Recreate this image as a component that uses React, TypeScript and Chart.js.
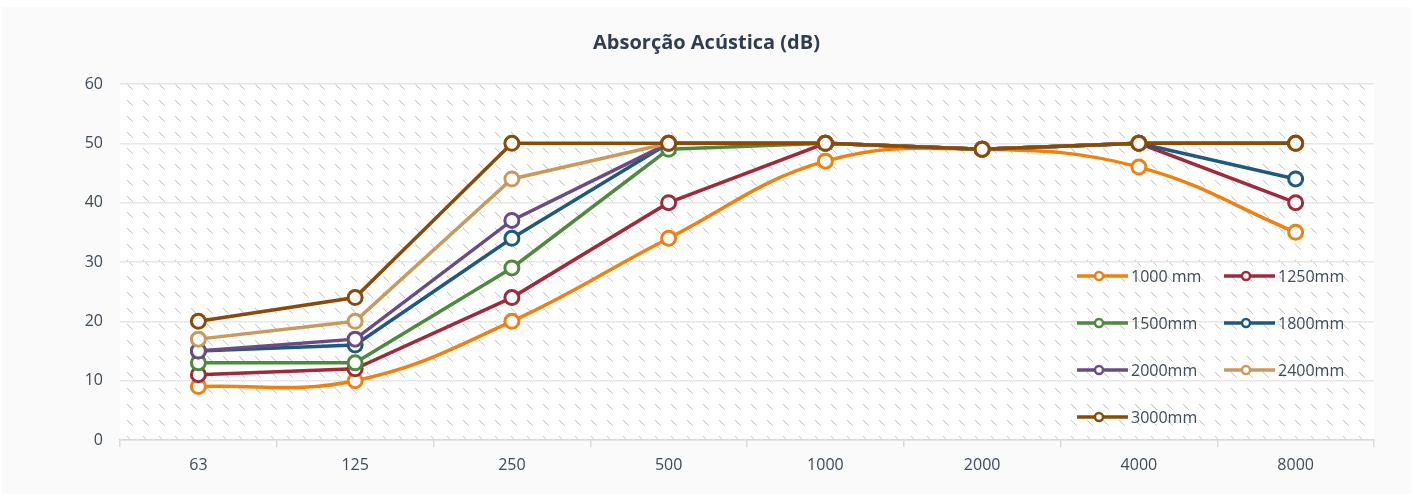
import React, { useEffect, useRef } from "react";
import { Chart, registerables } from "chart.js";

Chart.register(...registerables);

const categories = ["63", "125", "250", "500", "1000", "2000", "4000", "8000"];
const seriesLabels = ["1000 mm", "1250mm", "1500mm", "1800mm", "2000mm", "2400mm", "3000mm"];
const s1000 = [9, 10, 20, 34, 47, 49, 46, 35];
const s1250 = [11, 12, 24, 40, 50, 49, 50, 40];
const s1500 = [13, 13, 29, 49, 50, 49, 50, 50];
const s1800 = [15, 16, 34, 50, 50, 49, 50, 44];
const s2000 = [15, 17, 37, 50, 50, 49, 50, 50];
const s2400 = [17, 20, 44, 50, 50, 49, 50, 50];
const s3000 = [20, 24, 50, 50, 50, 49, 50, 50];
const yTicks = [0, 10, 20, 30, 40, 50, 60];

const seriesValues = [s1000, s1250, s1500, s1800, s2000, s2400, s3000];
const colors = ["#f0810f", "#a12a3a", "#4e8a3e", "#1d5a80", "#6a4c82", "#c99a5e", "#8a4b08"];
const tensions = [0.4, 0, 0, 0, 0, 0, 0];

const FONT = "'Open Sans', 'Noto Sans', sans-serif";
const TEXT = "#3c4a5b";

const bgPlugin = {
  id: "plotBg",
  beforeDraw(chart: any) {
    const { ctx, chartArea } = chart;
    if (!chartArea) return;
    const { left, top, right, bottom } = chartArea;
    ctx.save();
    ctx.fillStyle = "#ffffff";
    ctx.fillRect(left, top, right - left, bottom - top);
    const tile = document.createElement("canvas");
    tile.width = 16;
    tile.height = 16;
    const tctx = tile.getContext("2d")!;
    tctx.fillStyle = "#c6c6c6";
    for (let i = 0; i < 6; i++) tctx.fillRect(i, i, 1, 1);
    const pat = ctx.createPattern(tile, "repeat");
    if (pat && (pat as any).setTransform) {
      (pat as any).setTransform(new DOMMatrix().translate(left + 7, top));
    }
    ctx.fillStyle = pat;
    ctx.fillRect(left, top, right - left, bottom - top);
    ctx.restore();
  },
};

const legendPlugin = {
  id: "innerLegend",
  afterDatasetsDraw(chart: any) {
    const { ctx, chartArea } = chart;
    const rows = [-164, -117, -70, -23];
    const cols = [-297, -150];
    ctx.save();
    seriesLabels.forEach((label, i) => {
      const r = Math.floor(i / 2);
      const c = i % 2;
      const y = chartArea.bottom + rows[r];
      const x0 = chartArea.right + cols[c];
      ctx.strokeStyle = colors[i];
      ctx.lineWidth = 3.5;
      ctx.beginPath();
      ctx.moveTo(x0, y);
      ctx.lineTo(x0 + 51, y);
      ctx.stroke();
      ctx.beginPath();
      ctx.arc(x0 + 22, y, 4, 0, Math.PI * 2);
      ctx.fillStyle = "#ffffff";
      ctx.fill();
      ctx.lineWidth = 2.5;
      ctx.stroke();
      ctx.fillStyle = TEXT;
      ctx.font = `16px ${FONT}`;
      ctx.textAlign = "left";
      ctx.textBaseline = "middle";
      ctx.fillText(label, x0 + 54, y + 1);
    });
    ctx.restore();
  },
};

export default function App() {
  const ref = useRef<HTMLCanvasElement>(null);
  useEffect(() => {
    if (!ref.current) return;
    const chart = new Chart(ref.current, {
      type: "line",
      data: {
        labels: categories,
        datasets: seriesValues.map((vals, i) => ({
          label: seriesLabels[i],
          data: vals,
          borderColor: colors[i],
          backgroundColor: "#ffffff",
          pointBackgroundColor: "#ffffff",
          pointBorderColor: colors[i],
          pointRadius: 7,
          pointBorderWidth: 3,
          borderWidth: 3.5,
          tension: tensions[i],
          fill: false,
          order: seriesValues.length - i,
        })),
      },
      plugins: [bgPlugin, legendPlugin],
      options: {
        animation: false,
        responsive: false,
        layout: { padding: 0 },
        plugins: {
          legend: { display: false },
          tooltip: { enabled: false },
          title: {
            display: true,
            text: "Absorção Acústica (dB)",
            color: "#2e3e50",
            font: { family: FONT, size: 20, weight: "bold", lineHeight: 1.2 },
            padding: { top: 24, bottom: 29 },
          },
        },
        scales: {
          x: {
            offset: true,
            grid: {
              offset: true,
              drawOnChartArea: false,
              drawTicks: true,
              tickLength: 7,
              color: "#d9d9d9",
              lineWidth: 1.5,
            },
            border: { display: true, color: "#d9d9d9", width: 1.5 },
            ticks: { color: TEXT, font: { family: FONT, size: 16 }, padding: 9 },
            afterFit: (s: any) => {
              s.height = 54;
            },
          },
          y: {
            min: 0,
            max: 60,
            afterBuildTicks: (s: any) => {
              s.ticks = yTicks.map((v) => ({ value: v }));
            },
            grid: { color: "#e6e6e6", lineWidth: 1.5, drawTicks: false },
            border: { display: false },
            ticks: { color: TEXT, font: { family: FONT, size: 16 }, padding: 17 },
            afterFit: (s: any) => {
              s.width = 118;
            },
          },
          yRight: {
            position: "right",
            min: 0,
            max: 60,
            grid: { display: false, drawOnChartArea: false },
            border: { display: false },
            ticks: { display: false },
            afterFit: (s: any) => {
              s.width = 37;
            },
          },
        },
      },
    });
    return () => chart.destroy();
  }, []);
  return (
    <div
      style={{
        position: "absolute",
        left: 2,
        top: 7,
        width: 1409,
        height: 487,
        background: "#fafafa",
      }}
    >
      <canvas ref={ref} width={1409} height={487} style={{ width: 1409, height: 487, display: "block" }} />
    </div>
  );
}
